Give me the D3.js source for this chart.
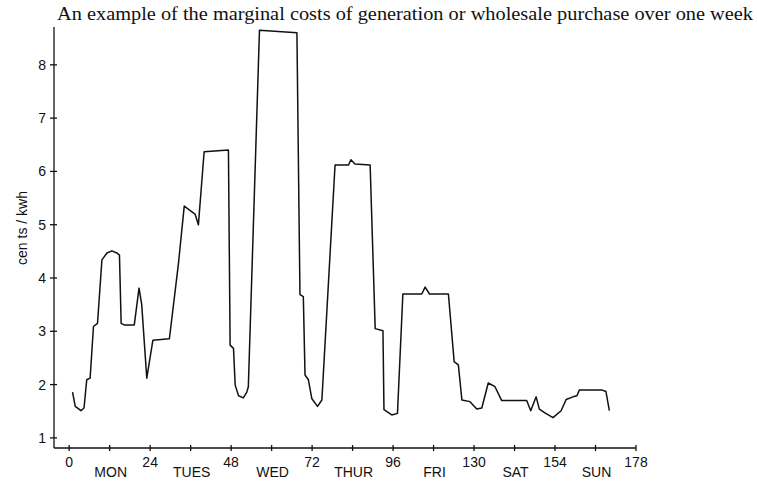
<!DOCTYPE html>
<html lang="en">
<head>
    <meta charset="UTF-8">
    <title>Marginal costs over one week</title>
    <script src="https://d3js.org/d3.v7.min.js"></script>
    <style>
        body {
            margin: 0;
            background: #fff;
        }
        svg {
            display: block;
        }
        .title {
            font-family: 'Liberation Serif', 'Times New Roman', serif;
            font-size: 18px;
            fill: #111;
        }
        .tick-label, .day-label, .y-title {
            font-family: 'Liberation Sans', Arial, sans-serif;
            font-size: 14px;
            fill: #111;
        }
        .axis-line {
            stroke: #111;
            stroke-width: 1.3;
        }
        .cost-line {
            fill: none;
            stroke: #111;
            stroke-width: 1.5;
            stroke-linejoin: round;
        }
    </style>
</head>
<body>
    <svg></svg>

    <script>
        const width = 757;
        const height = 493;

        // hours since Monday 00:00
        const hours = [
            1.0, 1.8, 3.5, 4.4, 5.2, 6.2, 7.2, 8.4, 9.7, 11.2,
            12.65, 14.1, 14.9, 15.4, 16.3, 19.3, 20.7, 21.5, 23.0, 24.8,
            29.7, 32.4, 34.1, 37.3, 38.3, 40.0, 47.2, 47.7, 48.7, 49.2,
            50.2, 51.6, 52.65, 53.1, 56.4, 67.5, 68.4, 69.4, 69.9, 70.9,
            71.9, 73.6, 74.9, 78.8, 82.8, 83.5, 84.7, 89.2, 90.7, 93.0,
            93.3, 95.6, 97.3, 98.9, 104.5, 105.5, 106.8, 112.4, 114.1, 115.35,
            116.4, 118.8, 120.8, 122.3, 124.2, 126.2, 128.2, 135.6, 136.8, 138.4,
            139.35, 141.0, 143.4, 145.8, 147.3, 149.3, 150.5, 151.2, 157.8, 159.1,
            160.1
        ];

        // cents / kwh
        const costs = [
            1.86, 1.59, 1.51, 1.56, 2.09, 2.12, 3.09, 3.15, 4.34, 4.47,
            4.51, 4.47, 4.43, 3.15, 3.12, 3.12, 3.81, 3.50, 2.12, 2.83,
            2.86, 4.28, 5.35, 5.20, 5.00, 6.37, 6.40, 2.74, 2.68, 1.99,
            1.79, 1.75, 1.86, 1.96, 8.65, 8.60, 3.69, 3.65, 2.18, 2.09,
            1.74, 1.59, 1.71, 6.12, 6.12, 6.22, 6.14, 6.12, 3.05, 3.01,
            1.53, 1.43, 1.46, 3.70, 3.70, 3.83, 3.70, 3.70, 2.43, 2.37,
            1.71, 1.68, 1.54, 1.56, 2.03, 1.96, 1.70, 1.70, 1.51, 1.77,
            1.54, 1.47, 1.38, 1.51, 1.72, 1.77, 1.79, 1.90, 1.90, 1.87,
            1.51
        ];

        // tick labels as printed (the fifth one really reads 130)
        const xTickLabels = ["0", "24", "48", "72", "96", "130", "154", "178"];
        const dayLabels = ["MON", "TUES", "WED", "THUR", "FRI", "SAT", "SUN"];
        const yTicks = [1, 2, 3, 4, 5, 6, 7, 8];

        const svg = d3.select("svg")
            .attr("width", width)
            .attr("height", height);

        const x = d3.scaleLinear().domain([-4.5, 168]).range([54, 636]);
        const y = d3.scaleLinear().domain([0.81, 8.71]).range([448, 27]);

        // Title
        svg.append("text")
            .attr("class", "title")
            .attr("x", 405)
            .attr("y", 20)
            .attr("text-anchor", "middle")
            .attr("textLength", 696)
            .attr("lengthAdjust", "spacingAndGlyphs")
            .text("An example of the marginal costs of generation or wholesale purchase over one week");

        // Axis lines
        svg.append("line")
            .attr("class", "axis-line")
            .attr("x1", x(-4.5)).attr("x2", x(-4.5))
            .attr("y1", y(8.71)).attr("y2", y(0.81));

        svg.append("line")
            .attr("class", "axis-line")
            .attr("x1", x(-4.5)).attr("x2", x(168))
            .attr("y1", y(0.81)).attr("y2", y(0.81));

        // Y ticks (little crosses through the axis)
        svg.append("g")
            .selectAll("line")
            .data(yTicks)
            .enter().append("line")
            .attr("class", "axis-line")
            .attr("x1", x(-4.5) - 4).attr("x2", x(-4.5) + 3)
            .attr("y1", d => y(d)).attr("y2", d => y(d));

        svg.append("g")
            .selectAll("text")
            .data(yTicks)
            .enter().append("text")
            .attr("class", "tick-label")
            .attr("x", x(-4.5) - 8)
            .attr("y", d => y(d) + 5)
            .attr("text-anchor", "end")
            .text(d => d);

        // X ticks every 12 hours
        const xTicks = d3.range(0, 169, 12);
        svg.append("g")
            .selectAll("line")
            .data(xTicks)
            .enter().append("line")
            .attr("class", "axis-line")
            .attr("x1", d => x(d)).attr("x2", d => x(d))
            .attr("y1", y(0.81) - 3).attr("y2", y(0.81) + 3);

        svg.append("g")
            .selectAll("text")
            .data(xTickLabels)
            .enter().append("text")
            .attr("class", "tick-label")
            .attr("x", (d, i) => x(i * 24))
            .attr("y", 467)
            .attr("text-anchor", "middle")
            .text(d => d);

        svg.append("g")
            .selectAll("text")
            .data(dayLabels)
            .enter().append("text")
            .attr("class", "day-label")
            .attr("x", (d, i) => x(i * 24 + 12) + 1)
            .attr("y", 477)
            .attr("text-anchor", "middle")
            .text(d => d);

        // Y axis title
        svg.append("text")
            .attr("class", "y-title")
            .attr("transform", "translate(27,228) rotate(-90)")
            .attr("text-anchor", "middle")
            .text("cen ts / kwh");

        // The cost line
        const line = d3.line()
            .x((d, i) => x(hours[i]))
            .y(d => y(d));

        svg.append("path")
            .datum(costs)
            .attr("class", "cost-line")
            .attr("d", line);
    </script>
</body>
</html>
